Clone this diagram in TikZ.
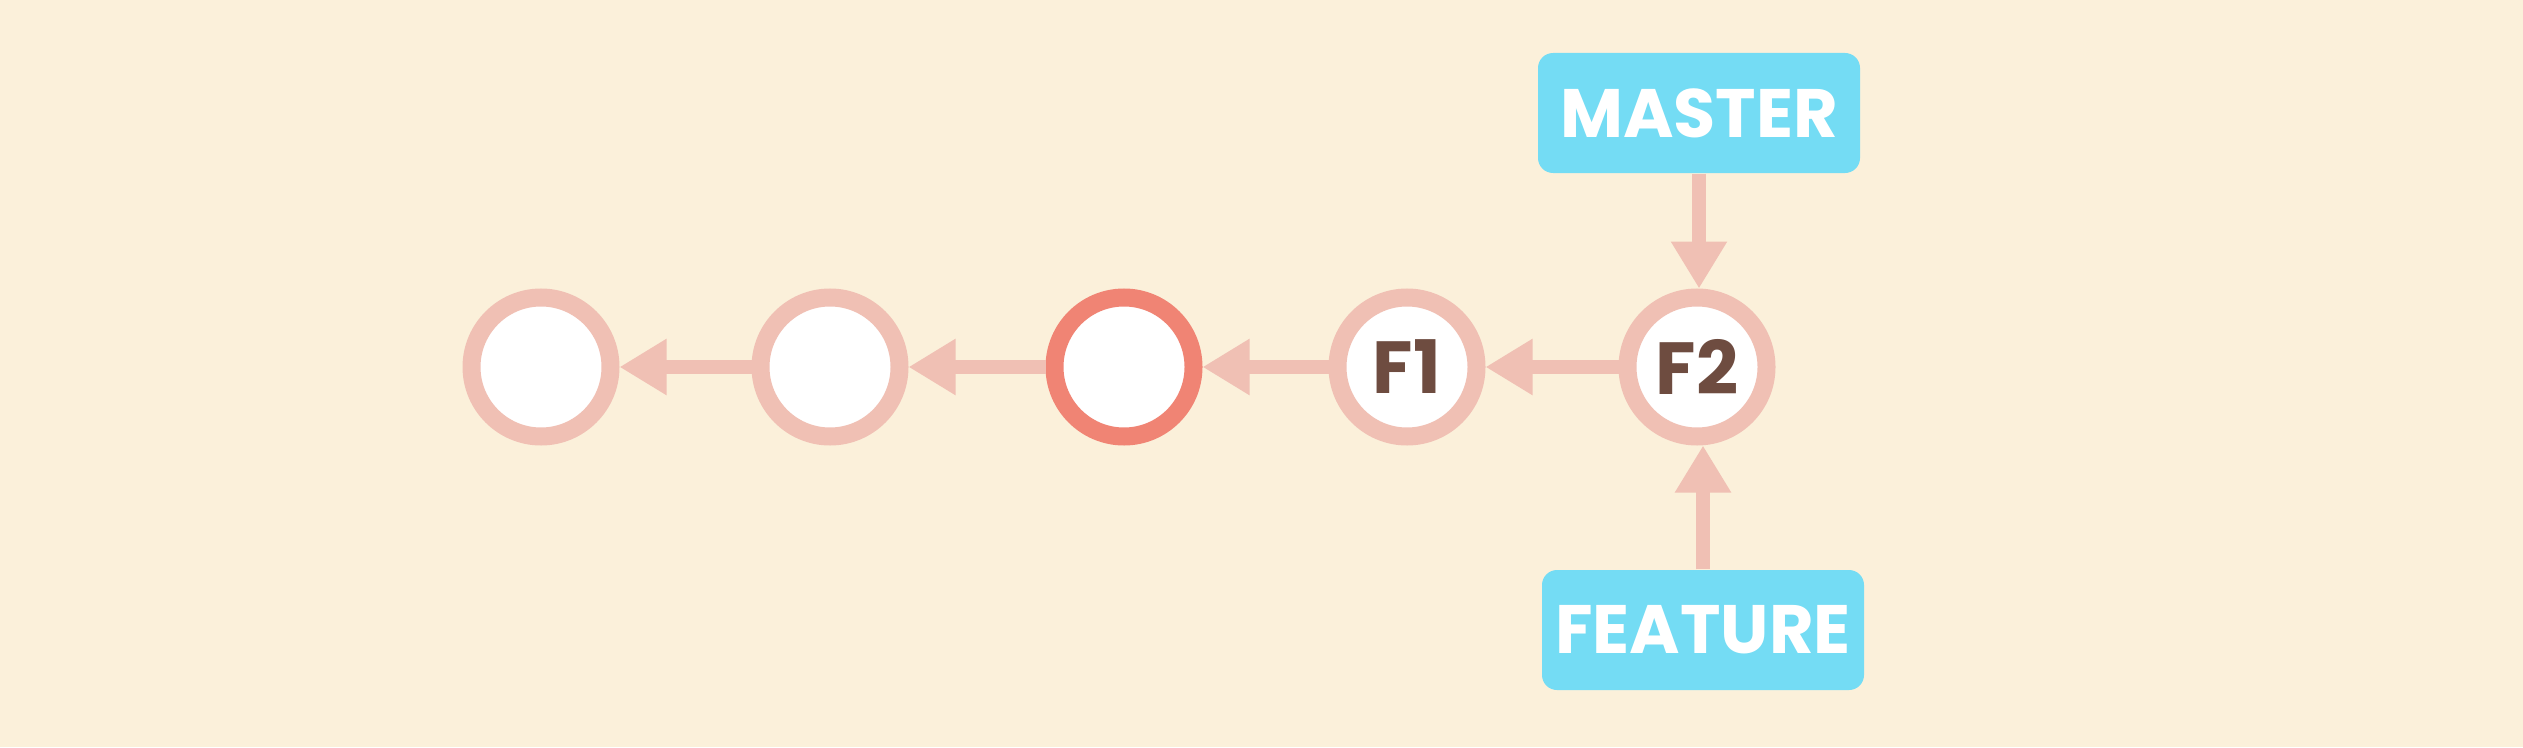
\documentclass[tikz,border=0pt]{standalone}
\usepackage{fontspec}
\setmainfont{Poppins}
\usetikzlibrary{arrows.meta}
\definecolor{paper}{HTML}{FBF0DA}
\definecolor{ring}{HTML}{F0C0B4}
\definecolor{hotring}{HTML}{F08474}
\definecolor{sky}{HTML}{74DCF4}
\definecolor{bark}{HTML}{6E4C40}

\begin{document}
\begin{tikzpicture}[
        x=1cm,
        y=1cm,
        every node/.style={font=\bfseries\fontsize{21}{24}\selectfont},
        commit/.style={
            circle,
            draw=ring,
            fill=white,
            line width=1.8mm,
            minimum size=13.9mm,
            inner sep=0pt,
            text=bark
        },
        branch/.style={
            rectangle,
            rounded corners=1.5mm,
            fill=sky,
            text=white,
            minimum width=32.2mm,
            minimum height=12mm,
            font=\bfseries\fontsize{19.5}{22}\selectfont
        },
        link/.style={
            draw=ring,
            line width=1.4mm,
            -{Triangle[length=4.7mm, width=5.3mm]}
        }
    ]
        % Background, also fixes the page size
        \fill[paper] (0,0) rectangle (25.23,7.47);

        % Commits: oldest on the left
        \node[commit] (c1) at (5.41,3.80) {};
        \node[commit] (c2) at (8.30,3.80) {};
        \node[commit, draw=hotring] (c3) at (11.24,3.80) {};
        \node[commit] (f1) at (14.07,3.80) {F1};
        \node[commit] (f2) at (16.97,3.80) {F2};

        % Branch labels
        \node[branch] (master) at (16.99,6.34) {MASTER};
        \node[branch] (feature) at (17.03,1.17) {FEATURE};

        % Parent links
        \draw[link] (c2) -- (c1);
        \draw[link] (c3) -- (c2);
        \draw[link] (f1) -- (c3);
        \draw[link] (f2) -- (f1);

        % Branches point at F2
        \draw[link] (master.south) -- (master.south |- f2.north);
        \draw[link] (feature.north) -- (feature.north |- f2.south);
    \end{tikzpicture}
\end{document}
